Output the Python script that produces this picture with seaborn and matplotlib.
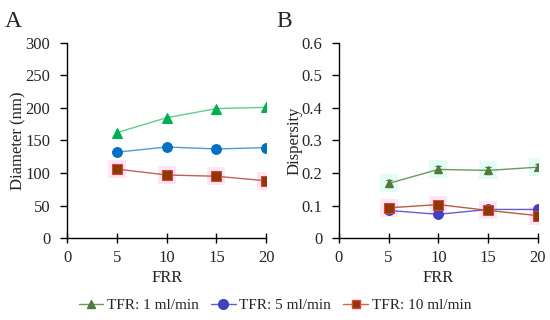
import numpy as np
import matplotlib
matplotlib.use("Agg")
import matplotlib.pyplot as plt
import matplotlib.text as mtext
import seaborn as sns
from matplotlib.lines import Line2D

frr = [5, 10, 15, 20]
series = ["TFR: 1 ml/min", "TFR: 5 ml/min", "TFR: 10 ml/min"]

# Panel A : diametre (nm)
diam_1 = [162, 185, 199, 201]
diam_5 = [132, 140, 137, 139]
diam_10 = [106, 97, 95, 88]

# Panel B : dispersite
disp_1 = [0.168, 0.211, 0.208, 0.218]
disp_1_err = [0.012, 0.012, 0.011, 0.010]
disp_5 = [0.085, 0.073, 0.088, 0.088]
disp_10 = [0.093, 0.103, 0.085, 0.069]

sns.set_theme(style="ticks")
FONT = "Liberation Serif"
plt.rcParams['font.family'] = [FONT, 'DejaVu Serif']

fig = plt.figure(figsize=(5.5, 3.2), dpi=100)
axA = fig.add_axes([0.122, 0.256, 0.362, 0.610])
axB = fig.add_axes([0.616, 0.256, 0.362, 0.610])

def draw(ax, y, line_c, mark_c, edge_c, marker, ms, halo=None):
    if halo is not None:
        ax.plot(frr, y, ls="none", marker="s", ms=13, color=halo, alpha=0.2,
                markeredgewidth=0, zorder=1)
    sns.lineplot(x=frr, y=y, ax=ax, color=line_c, lw=1, marker=marker,
                 markersize=ms, markerfacecolor=mark_c, markeredgecolor=edge_c,
                 markeredgewidth=0.8, zorder=3)

# A
draw(axA, diam_1, "#5fcf8a", "#00b050", "#00b050", "^", 7)
draw(axA, diam_5, "#4a9fd0", "#0070c0", "#0070c0", "o", 7)
draw(axA, diam_10, "#c0605a", "#8b3a00", "#e04040", "s", 6.5, halo="#ff80e0")

# B
axB.errorbar(frr, disp_1, yerr=disp_1_err, fmt="none", ecolor="#4f7a3c",
             elinewidth=0.8, capsize=2.5, zorder=2)
draw(axB, disp_1, "#6a9a5a", "#4f7a3c", "#4f7a3c", "^", 6, halo="#80f0d0")
draw(axB, disp_5, "#6060d0", "#4040c0", "#4040c0", "o", 7)
draw(axB, disp_10, "#b06040", "#8b3a00", "#e04040", "s", 6.5, halo="#ff80e0")

for ax in (axA, axB):
    ax.set_xlim(0, 20)
    ax.set_xticks([0, 5, 10, 15, 20])
    ax.set_xlabel("FRR", fontsize=12, labelpad=3)
    sns.despine(ax=ax)
    ax.tick_params(axis="x", labelsize=12, direction="inout", length=7,
                   width=1, color="black", pad=5)
    ax.tick_params(axis="y", labelsize=12, direction="out", length=5,
                   width=1, color="black", pad=7)
    for s in ("left", "bottom"):
        ax.spines[s].set_color("black")
        ax.spines[s].set_linewidth(1)

axA.set_ylim(0, 300)
axA.set_yticks(np.arange(0, 301, 50))
axA.set_ylabel("Diameter (nm)", fontsize=12, labelpad=-1)
axB.set_ylim(0, 0.6)
axB.set_yticks([0, 0.1, 0.2, 0.3, 0.4, 0.5, 0.6])
axB.set_yticklabels(["0", "0.1", "0.2", "0.3", "0.4", "0.5", "0.6"])
axB.set_ylabel("Dispersity", fontsize=12, labelpad=-1)

fig.text(0.008, 0.965, "A", fontsize=17, va="top")
fig.text(0.502, 0.965, "B", fontsize=17, va="top")

handles = [
    Line2D([], [], color="#6a9a5a", lw=1, marker="^", ms=6, mfc="#4f7a3c", mec="#4f7a3c"),
    Line2D([], [], color="#6060d0", lw=1, marker="o", ms=7, mfc="#4040c0", mec="#4040c0"),
    Line2D([], [], color="#e06050", lw=1, marker="s", ms=6, mfc="#8b3a00", mec="#e04040"),
]
fig.legend(handles, series, loc="center", bbox_to_anchor=(0.5, 0.045), ncol=3,
           frameon=False, fontsize=11, handlelength=1.6, handletextpad=0.25,
           columnspacing=0.8)

# police explicite sur tous les textes
for t in fig.findobj(mtext.Text):
    t.set_fontfamily(FONT)

fig.savefig("out.png", dpi=100)
